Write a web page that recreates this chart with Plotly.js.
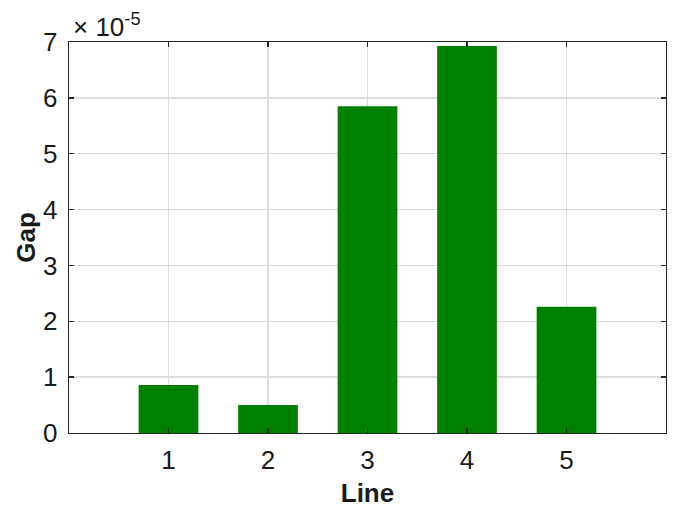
<!DOCTYPE html>
<html>
<head>
<meta charset="utf-8">
<script src="https://cdn.plot.ly/plotly-3.0.1.min.js"></script>
<style>html,body{margin:0;padding:0;background:#fff;}#chart{width:686px;height:511px;}</style>
</head>
<body>
<div id="chart"></div>
<script>
// Data (Gap values in units of 1e-5)
const lines = [1, 2, 3, 4, 5];
const gapValues = [0.86, 0.50, 5.85, 6.93, 2.26];
const yTicks = [0, 1, 2, 3, 4, 5, 6, 7];
const exponentLabel = '× 10<sup>-5</sup>';

const FONT = 'Liberation Sans, Arial, sans-serif';

const trace = {
  type: 'bar',
  x: lines,
  y: gapValues,
  width: 0.6,
  marker: {color: '#008000', line: {width: 0}},
  hoverinfo: 'skip'
};

const axisCommon = {
  showline: true, linecolor: '#262626', linewidth: 1.3, mirror: 'ticks',
  ticks: 'inside', ticklen: 5, tickwidth: 1.3, tickcolor: '#262626',
  showgrid: true, gridcolor: '#dcdcdc', gridwidth: 1.3,
  zeroline: false,
  tickfont: {family: FONT, size: 26, color: '#1a1a1a'}
};

const layout = {
  width: 686, height: 511,
  margin: {l: 69, r: 20, t: 42, b: 78},
  paper_bgcolor: '#ffffff', plot_bgcolor: '#ffffff',
  showlegend: false,
  xaxis: Object.assign({}, axisCommon, {
    range: [0, 6], tickvals: lines, ticktext: lines.map(String),
    ticklabelstandoff: 3,
    title: {text: '<b>Line</b>', font: {family: FONT, size: 26, color: '#1a1a1a'}, standoff: 10}
  }),
  yaxis: Object.assign({}, axisCommon, {
    range: [0, 7], tickvals: yTicks, ticktext: yTicks.map(String),
    ticklabelstandoff: 5,
    title: {text: '<b>Gap</b>', font: {family: FONT, size: 26, color: '#1a1a1a'}, standoff: 0}
  }),
  annotations: [{
    text: exponentLabel, xref: 'paper', yref: 'paper', x: 0, y: 1,
    xanchor: 'left', yanchor: 'bottom', xshift: 2, yshift: -2, showarrow: false,
    font: {family: FONT, size: 26, color: '#1a1a1a'}
  }]
};

Plotly.newPlot('chart', [trace], layout, {displayModeBar: false, staticPlot: true});
</script>
</body>
</html>
